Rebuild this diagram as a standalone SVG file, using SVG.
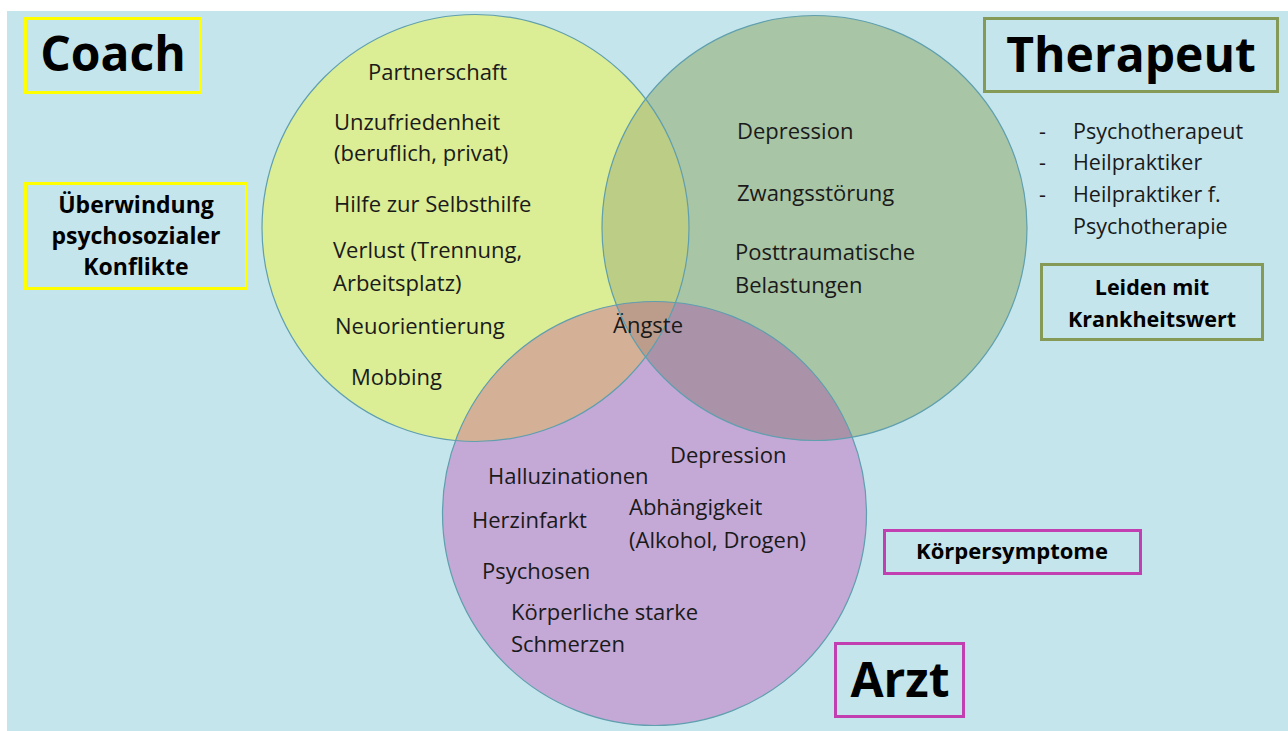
<svg xmlns="http://www.w3.org/2000/svg" width="1288" height="731" viewBox="0 0 1288 731">
<style>
.t{font-family:"Open Sans","Liberation Sans",sans-serif;font-size:22px;fill:#1a1a1a}
.l{font-family:"Open Sans","Liberation Sans",sans-serif;font-size:21.5px;fill:#1a1a1a}
.b{font-family:"Open Sans","Liberation Sans",sans-serif;font-weight:bold;fill:#000;text-anchor:middle}
.edge{fill:none;stroke:#5f9fae;stroke-width:1.2}
.box{fill:none;stroke-width:3}
</style>
<defs>
<clipPath id="cC"><circle cx="475.5" cy="228" r="213.5"/></clipPath>
<clipPath id="cT"><circle cx="814.5" cy="228" r="212.5"/></clipPath>
</defs>
<rect x="7" y="11" width="1281" height="720" fill="#c5e5ec"/>
<g id="circles">
<circle cx="475.5" cy="228" r="213.5" fill="#dbed95"/>
<circle cx="814.5" cy="228" r="212.5" fill="#a8c5a6"/>
<circle cx="654.5" cy="513.5" r="212" fill="#c4a8d6"/>
<circle cx="814.5" cy="228" r="212.5" fill="#bccd85" clip-path="url(#cC)"/>
<circle cx="654.5" cy="513.5" r="212" fill="#d4b097" clip-path="url(#cC)"/>
<circle cx="654.5" cy="513.5" r="212" fill="#aa93a8" clip-path="url(#cT)"/>
<g clip-path="url(#cC)"><circle cx="654.5" cy="513.5" r="212" fill="#bc9d8b" clip-path="url(#cT)"/></g>
</g>
<g id="connectors">
<circle class="edge" cx="475.5" cy="228" r="213.5"/>
<circle class="edge" cx="814.5" cy="228" r="212.5"/>
<circle class="edge" cx="654.5" cy="513.5" r="212"/>
</g>
<g id="coach-label">
<rect class="box" x="25.5" y="18.5" width="175" height="74" stroke="#ffff00"/>
<text class="b" x="113" y="71" font-size="48">Coach</text>
</g>
<g id="therapeut-label">
<rect class="box" x="984.5" y="18.5" width="293" height="73" stroke="#869a58"/>
<text class="b" x="1131" y="72" font-size="48">Therapeut</text>
</g>
<g id="arzt-label">
<rect class="box" x="835.5" y="643.5" width="128" height="73" stroke="#c23fb2"/>
<text class="b" x="900" y="697" font-size="48">Arzt</text>
</g>
<g id="ueberwindung">
<rect class="box" x="25.5" y="183.5" width="221" height="105" stroke="#ffff00"/>
<text class="b" x="136" y="213" font-size="23">Überwindung</text>
<text class="b" x="136" y="244" font-size="23">psychosozialer</text>
<text class="b" x="136" y="275" font-size="23">Konflikte</text>
</g>
<g id="leiden">
<rect class="box" x="1041.5" y="264.5" width="221" height="75" stroke="#869a58"/>
<text class="b" x="1152" y="295" font-size="21.5">Leiden mit</text>
<text class="b" x="1152" y="327" font-size="21.5">Krankheitswert</text>
</g>
<g id="koerpersymptome">
<rect class="box" x="884.5" y="530.5" width="256" height="43" stroke="#c23fb2"/>
<text class="b" x="1012" y="559" font-size="22">Körpersymptome</text>
</g>
<g id="therapeut-list">
<text class="l" x="1039" y="139">-</text>
<text class="l" x="1073" y="139">Psychotherapeut</text>
<text class="l" x="1039" y="170">-</text>
<text class="l" x="1073" y="170">Heilpraktiker</text>
<text class="l" x="1039" y="202">-</text>
<text class="l" x="1073" y="202">Heilpraktiker f.</text>
<text class="l" x="1073" y="234">Psychotherapie</text>
</g>
<g id="coach-items">
<text class="t" x="368" y="80">Partnerschaft</text>
<text class="t" x="334" y="130">Unzufriedenheit</text>
<text class="t" x="334" y="161">(beruflich, privat)</text>
<text class="t" x="334" y="212">Hilfe zur Selbsthilfe</text>
<text class="t" x="333" y="258">Verlust (Trennung,</text>
<text class="t" x="333" y="291">Arbeitsplatz)</text>
<text class="t" x="335" y="334">Neuorientierung</text>
<text class="t" x="351" y="385">Mobbing</text>
</g>
<g id="therapeut-items">
<text class="t" x="737" y="139">Depression</text>
<text class="t" x="737" y="201">Zwangsstörung</text>
<text class="t" x="735" y="260">Posttraumatische</text>
<text class="t" x="735" y="293">Belastungen</text>
</g>
<g id="common">
<text class="t" x="613" y="333">Ängste</text>
</g>
<g id="arzt-items">
<text class="t" x="670" y="463">Depression</text>
<text class="t" x="488" y="484">Halluzinationen</text>
<text class="t" x="629" y="515">Abhängigkeit</text>
<text class="t" x="472" y="528">Herzinfarkt</text>
<text class="t" x="629" y="548">(Alkohol, Drogen)</text>
<text class="t" x="482" y="579">Psychosen</text>
<text class="t" x="511" y="620">Körperliche starke</text>
<text class="t" x="511" y="652">Schmerzen</text>
</g>
</svg>
